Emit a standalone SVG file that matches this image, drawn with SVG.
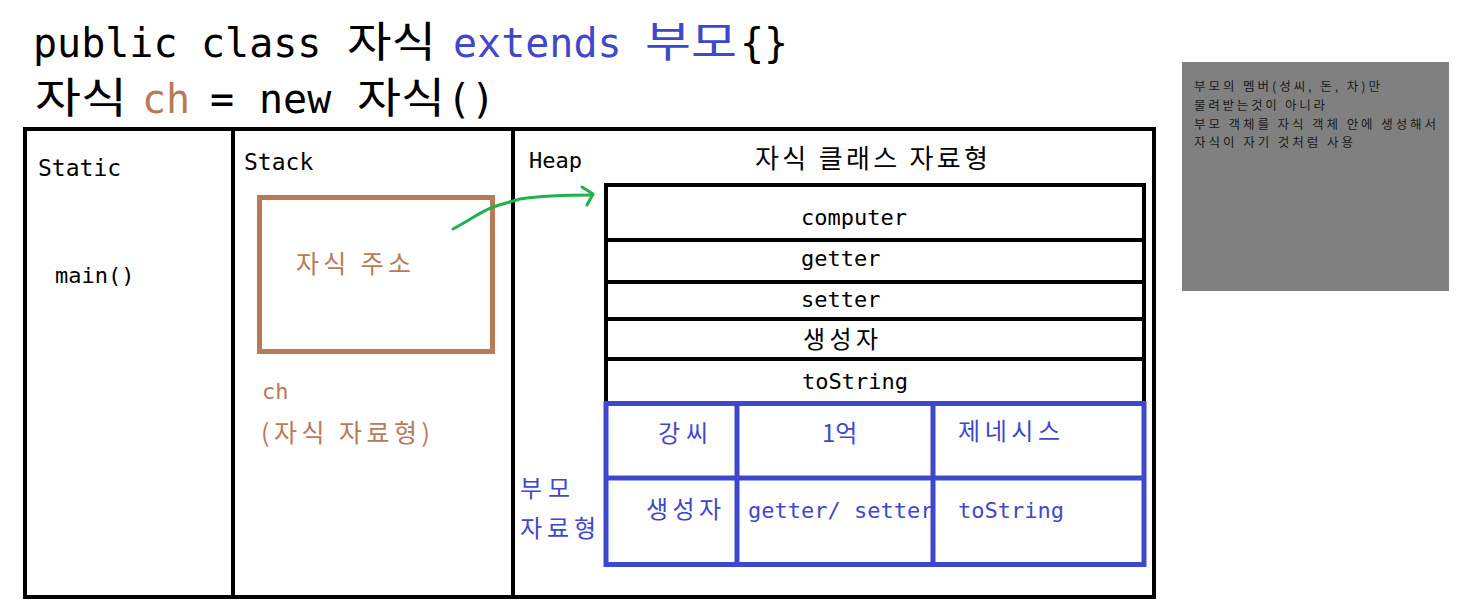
<svg xmlns="http://www.w3.org/2000/svg" width="1479" height="612" viewBox="0 0 1479 612">
<style>
.t{font-family:"DejaVu Sans Mono","Noto Sans CJK KR",monospace;fill:#000}
.k{font-family:"Noto Sans CJK KR","DejaVu Sans Mono",sans-serif;fill:#000}
.blue{fill:#3f48cc}
.brown{fill:#b97a57}
.box{fill:none;stroke:#000;stroke-width:4}
.bb{fill:none;stroke:#3f48cc;stroke-width:5}
.note{font-family:"Noto Sans CJK KR",sans-serif;font-size:12.5px;fill:#1a1a1a}
</style>
<rect width="1479" height="612" fill="#fff"/>
<g id="title">
<text class="t" x="33" y="57" font-size="40">public</text>
<text class="t" x="201" y="57" font-size="40">class</text>
<text class="k" x="347" y="57" font-size="42" textLength="89" lengthAdjust="spacingAndGlyphs">자식</text>
<text class="t blue" x="453" y="57" font-size="40">extends</text>
<text class="k blue" x="645" y="57" font-size="42" textLength="92" lengthAdjust="spacingAndGlyphs">부모</text>
<text class="t" x="740" y="57" font-size="40">{}</text>
<text class="k" x="35" y="113" font-size="42" textLength="92" lengthAdjust="spacingAndGlyphs">자식</text>
<text class="t brown" x="142" y="113" font-size="40">ch</text>
<text class="t" x="210" y="113" font-size="40">=</text>
<text class="t" x="259" y="113" font-size="40">new</text>
<text class="k" x="357" y="113" font-size="42" textLength="88" lengthAdjust="spacingAndGlyphs">자식</text>
<text class="t" x="447" y="113" font-size="40">()</text>
</g>
<g id="memory">
<rect class="box" x="25" y="129" width="1129" height="468"/>
<line class="box" x1="233" y1="129" x2="233" y2="597"/>
<line class="box" x1="513" y1="129" x2="513" y2="597"/>
</g>
<g id="static">
<text class="t" x="38" y="176" font-size="23">Static</text>
<text class="t" x="55" y="283" font-size="22">main()</text>
</g>
<g id="stack">
<text class="t" x="244" y="170" font-size="23">Stack</text>
<rect x="259.5" y="197.5" width="233" height="154" fill="none" stroke="#b97a57" stroke-width="5"/>
<text class="k brown" x="296" y="273" font-size="25" textLength="115" lengthAdjust="spacing">자식 주소</text>
<text class="t brown" x="262" y="399" font-size="22">ch</text>
<text class="k brown" x="261" y="442" font-size="25" textLength="169" lengthAdjust="spacing">(자식 자료형)</text>
</g>
<g id="heap">
<text class="t" x="529" y="168" font-size="22">Heap</text>
<text class="k" x="755" y="168" font-size="26" textLength="233" lengthAdjust="spacing">자식 클래스 자료형</text>
</g>
<g id="child-object">
<rect class="box" x="606" y="185" width="538" height="218"/>
<line class="box" x1="606" y1="240" x2="1144" y2="240"/>
<line class="box" x1="606" y1="282" x2="1144" y2="282"/>
<line class="box" x1="606" y1="319" x2="1144" y2="319"/>
<line class="box" x1="606" y1="359" x2="1144" y2="359"/>
<text class="t" x="801" y="225" font-size="22">computer</text>
<text class="t" x="801" y="266" font-size="22">getter</text>
<text class="t" x="801" y="307" font-size="22">setter</text>
<text class="k" x="803" y="348" font-size="24" textLength="75" lengthAdjust="spacing">생성자</text>
<text class="t" x="802" y="389" font-size="22">toString</text>
</g>
<g id="parent-object">
<rect class="bb" x="606" y="403.5" width="538" height="161"/>
<line class="bb" x1="606" y1="478" x2="1144" y2="478"/>
<line class="bb" x1="737" y1="403" x2="737" y2="565"/>
<line class="bb" x1="933" y1="403" x2="933" y2="565"/>
<text class="k blue" x="658" y="442" font-size="24" textLength="50" lengthAdjust="spacing">강씨</text>
<text class="k blue" x="822" y="442" font-size="24">1억</text>
<text class="k blue" x="958" y="440" font-size="24" textLength="102" lengthAdjust="spacing">제네시스</text>
<text class="k blue" x="646" y="518" font-size="24" textLength="75" lengthAdjust="spacing">생성자</text>
<text class="t blue" x="748" y="518" font-size="22">getter/ setter</text>
<text class="t blue" x="958" y="518" font-size="22">toString</text>
<text class="k blue" x="520" y="497" font-size="24" textLength="50" lengthAdjust="spacing">부모</text>
<text class="k blue" x="520" y="537" font-size="24" textLength="76" lengthAdjust="spacing">자료형</text>
</g>
<g id="note">
<rect x="1182" y="62" width="267" height="229" fill="#808080"/>
<text class="note" x="1194" y="91" textLength="186" lengthAdjust="spacing">부모의 멤버(성씨, 돈, 차)만</text>
<text class="note" x="1194" y="110" textLength="131" lengthAdjust="spacing">물려받는것이 아니라</text>
<text class="note" x="1194" y="129" textLength="242" lengthAdjust="spacing">부모 객체를 자식 객체 안에 생성해서</text>
<text class="note" x="1194" y="147" textLength="159" lengthAdjust="spacing">자식이 자기 것처럼 사용</text>
</g>
<g id="connectors" fill="none" stroke="#22b14c" stroke-width="3" stroke-linecap="round" stroke-linejoin="round">
<path d="M453 229 C470 220 480 212 493 207 C505 203 510 202 520 199 C540 196 560 195 593 195"/>
<path d="M582 187 L593 194 L587 205"/>
</g>
</svg>
